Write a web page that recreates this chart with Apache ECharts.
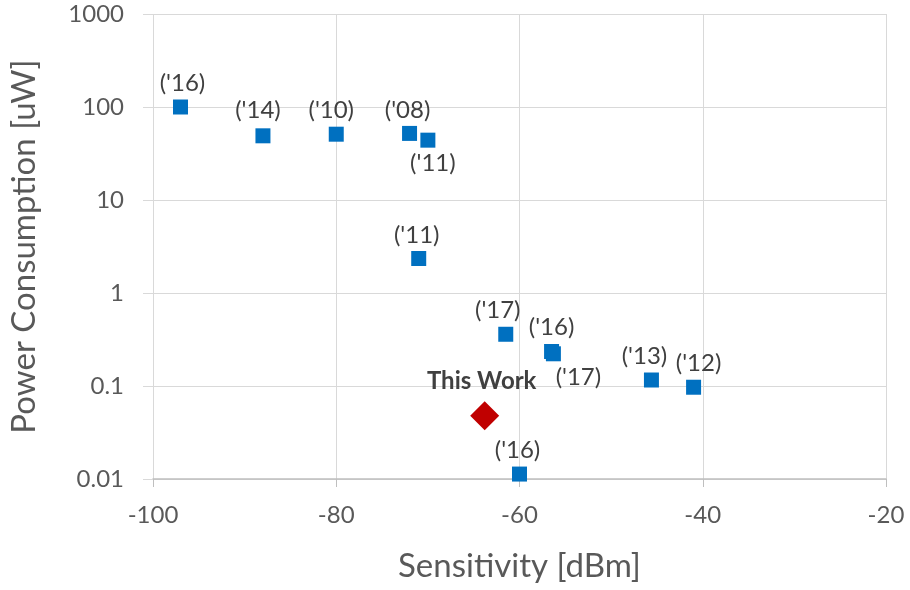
<!DOCTYPE html>
<html>
<head>
<meta charset="utf-8">
<script src="https://cdn.jsdelivr.net/npm/echarts@6/dist/echarts.min.js"></script>
<style>html,body{margin:0;padding:0;background:#fff}#c{width:910px;height:590px}</style>
</head>
<body>
<div id="c"></div>
<script>
// Data
const refSensitivity = [-97, -88, -80, -72, -70, -71, -61.5, -56.5, -56.3, -45.6, -41, -60];
const refPower       = [100, 49, 51, 52, 44, 2.35, 0.36, 0.235, 0.222, 0.116, 0.097, 0.0113];
const refYears       = ["('16)", "('14)", "('10)", "('08)", "('11)", "('11)", "('17)", "('16)", "('17)", "('13)", "('12)", "('16)"];
const workSensitivity = [-63.8];
const workPower = [0.048];
const workLabel = ["This Work"];
const yTicks = ["0.01", "0.1", "1", "10", "100", "1000"];

// label placement (style, not data)
const labelPlace = [
  {position:'top', offset:[2,0]},
  {position:'top', offset:[-5,-2]},
  {position:'top', offset:[-5,0]},
  {position:'top', offset:[-2,0]},
  {position:'bottom', offset:[5,0]},
  {position:'top', offset:[-2,0]},
  {position:'top', offset:[-8,0]},
  {position:'top', offset:[0,-1]},
  {position:'bottom', offset:[25,0]},
  {position:'top', offset:[-7,0]},
  {position:'top', offset:[5,0]},
  {position:'top', offset:[-2,0]}
];

const refData = refSensitivity.map((x, i) => ({
  value: [x, refPower[i]],
  name: refYears[i],
  label: Object.assign({show: true, formatter: refYears[i]}, labelPlace[i])
}));
const workData = workSensitivity.map((x, i) => ({value: [x, workPower[i]], name: workLabel[i]}));

const FONT = 'Lato, "Open Sans", "Noto Sans", sans-serif';
const chart = echarts.init(document.getElementById('c'));
chart.setOption({
  animation: false,
  textStyle: {fontFamily: FONT},
  grid: {left: 142, right: 24, top: 14, bottom: 111, containLabel: false},
  xAxis: {
    type: 'value', min: -100, max: -20, interval: 20,
    name: 'Sensitivity [dBm]', nameLocation: 'middle', nameGap: 71,
    nameTextStyle: {fontSize: 33, color: '#595959', fontFamily: FONT},
    axisLine: {show: true, onZero: false, lineStyle: {color: '#bfbfbf', width: 1.5}},
    axisTick: {show: true, length: 8, lineStyle: {color: '#bfbfbf'}},
    splitLine: {show: true, lineStyle: {color: '#d9d9d9', width: 1}},
    axisLabel: {fontSize: 24, color: '#595959', margin: 24, fontFamily: FONT}
  },
  yAxis: {
    type: 'log', logBase: 10, min: 0.01, max: 1000,
    name: 'Power Consumption [uW]', nameLocation: 'middle', nameGap: 112,
    nameTextStyle: {fontSize: 33, color: '#595959', fontFamily: FONT},
    axisLine: {show: false},
    axisTick: {show: true, length: 10, lineStyle: {color: '#d9d9d9'}},
    splitLine: {show: true, lineStyle: {color: '#d9d9d9', width: 1}},
    minorTick: {show: false},
    axisLabel: {fontSize: 24, color: '#595959', margin: 29, fontFamily: FONT,
      formatter: function (v) {
        const e = Math.round(Math.log10(v));
        return yTicks[e + 2];
      }}
  },
  series: [
    {
      type: 'scatter', symbol: 'rect', symbolSize: 15,
      itemStyle: {color: '#0070c0', opacity: 1},
      label: {fontSize: 24, color: '#404040', distance: 4, fontFamily: FONT},
      data: refData, z: 3
    },
    {
      type: 'scatter', symbol: 'diamond', symbolSize: 29,
      itemStyle: {color: '#c00000', opacity: 1},
      label: {show: true, position: 'top', formatter: '{b}', fontSize: 24, fontWeight: 'bold',
        color: '#404040', distance: 8, offset: [-3, 0], fontFamily: FONT},
      data: workData, z: 4
    }
  ]
});
</script>
</body>
</html>
